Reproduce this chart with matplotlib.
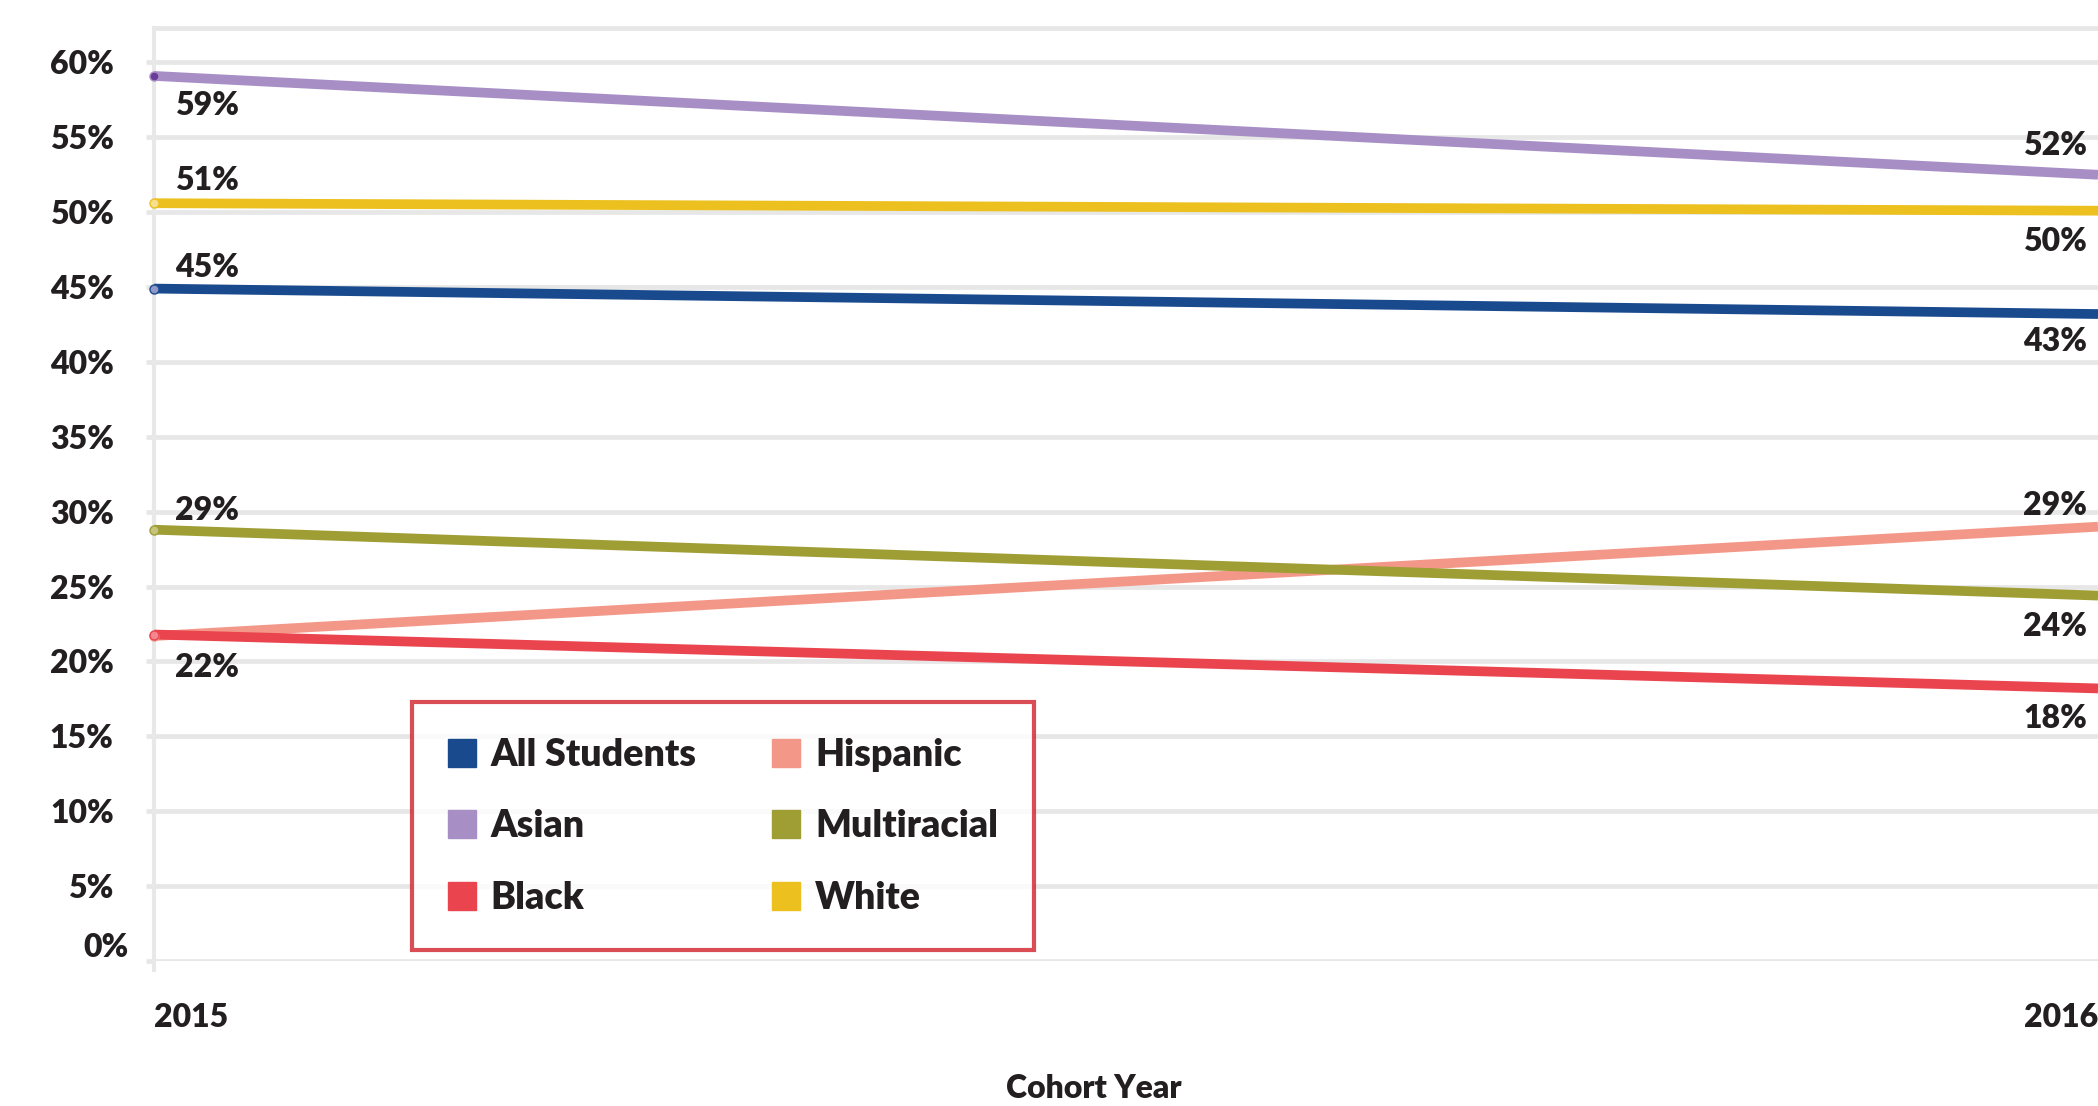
import matplotlib
matplotlib.use("Agg")
import matplotlib.pyplot as plt
import matplotlib.transforms as mtransforms
from matplotlib.lines import Line2D

plt.rcParams['font.family'] = ['Lato', 'DejaVu Sans']
plt.rcParams['font.weight'] = 'heavy'

years = [2015, 2016]
groups = ['All Students', 'Asian', 'Black', 'Hispanic', 'Multiracial', 'White']
all_students = [44.9, 43.2]
asian = [59.1, 52.5]
black = [21.8, 18.2]
hispanic = [21.7, 29.0]
multiracial = [28.8, 24.4]
white = [50.6, 50.1]

colors = {'All Students': '#1a4a8e', 'Asian': '#a78fc6', 'Black': '#ea444e',
          'Hispanic': '#f39888', 'Multiracial': '#9f9e35', 'White': '#ecc11f'}
dots = {'All Students': '#8f98c9', 'Asian': '#6a3b98', 'Black': '#f28790',
        'Hispanic': '#f6b4a9', 'Multiracial': '#c6c47c', 'White': '#f6df8e'}
series = {'All Students': all_students, 'Asian': asian, 'Black': black,
          'Hispanic': hispanic, 'Multiracial': multiracial, 'White': white}
# label offsets (points) at 2015 / 2016, positive = above the line
offs = {'All Students': (15, -20), 'Asian': (-21, 21), 'Black': (-24, -22),
        'Hispanic': (None, 15.5), 'Multiracial': (14, -22), 'White': (16, -22)}
txt = '#231f20'
grid = '#e6e7e6'

W, H = 2098, 1106
fig = plt.figure(figsize=(W / 100, H / 100), dpi=100)
ax = fig.add_axes([154 / W, 1 - 961 / H, 1 - 154 / W, (961 - 28) / H])
ax.set_xlim(2015, 2016)
ax.set_ylim(0, 62.3)

ticks = list(range(0, 61, 5))
ax.set_yticks(ticks)
ax.set_yticklabels([f'{t}%' for t in ticks])
for t in ticks:
    ax.axhline(t, color=grid, lw=3.4, zorder=0)
ax.axhline(62.3, color=grid, lw=3.4, zorder=0, clip_on=False)
ax.tick_params(axis='y', length=6, width=3.4, color=grid, pad=23,
               labelsize=23, labelcolor=txt)
for s in ['top', 'right', 'bottom']:
    ax.spines[s].set_visible(False)
ax.spines['left'].set_color('#e8e8e8')
ax.spines['left'].set_linewidth(3)
ax.spines['left'].set_bounds(-0.6, 62.3)
lab0 = ax.get_yticklabels()[0]
lab0.set_transform(lab0.get_transform() + mtransforms.ScaledTranslation(15 / 100, 16 / 100, fig.dpi_scale_trans))

ax.set_xticks(years)
ax.set_xticklabels([str(y) for y in years])
ax.tick_params(axis='x', length=0, pad=30, labelsize=23, labelcolor=txt)
xl = ax.get_xticklabels()
xl[0].set_ha('left')
xl[1].set_ha('right')

order = ['Hispanic', 'Multiracial', 'Black', 'All Students', 'White', 'Asian']
for g in order:
    v = series[g]
    ax.plot(years, v, color=colors[g], lw=7, solid_capstyle='butt', zorder=3)
    ax.plot(years[0], v[0], 'o', ms=6.5, color=dots[g], mec=colors[g], mew=1, zorder=4, clip_on=False)

for g in groups:
    v = series[g]
    o0, o1 = offs[g]
    if o0 is not None:
        ax.annotate(f'{round(v[0])}%', (years[0], v[0]), xytext=(15, o0),
                    textcoords='offset points', ha='left', va='center',
                    fontsize=23, color=txt)
    ax.annotate(f'{round(v[1])}%', (years[1], v[1]), xytext=(-8, o1),
                textcoords='offset points', ha='right', va='center',
                fontsize=23, color=txt)

fig.text(1094 / W, 1 - 1088 / H, 'Cohort Year', ha='center', va='center',
         fontsize=23, color=txt)

handles = [Line2D([], [], ls='none', marker='s', ms=20, color=colors[g]) for g in groups]
leg = ax.legend(handles, groups, ncol=2, loc='upper left',
                bbox_to_anchor=(412 / W, 1 - 702 / H), bbox_transform=fig.transFigure,
                fontsize=27, frameon=True, fancybox=False, borderaxespad=0,
                borderpad=0.95, labelspacing=1.0, handlelength=0.75,
                handletextpad=0.4, columnspacing=2.0)
leg.get_frame().set_edgecolor('#d1202a')
leg.get_frame().set_linewidth(3)
for t in leg.get_texts():
    t.set_color(txt)
leg.set_zorder(5)

fig.savefig('out.png', dpi=100)
